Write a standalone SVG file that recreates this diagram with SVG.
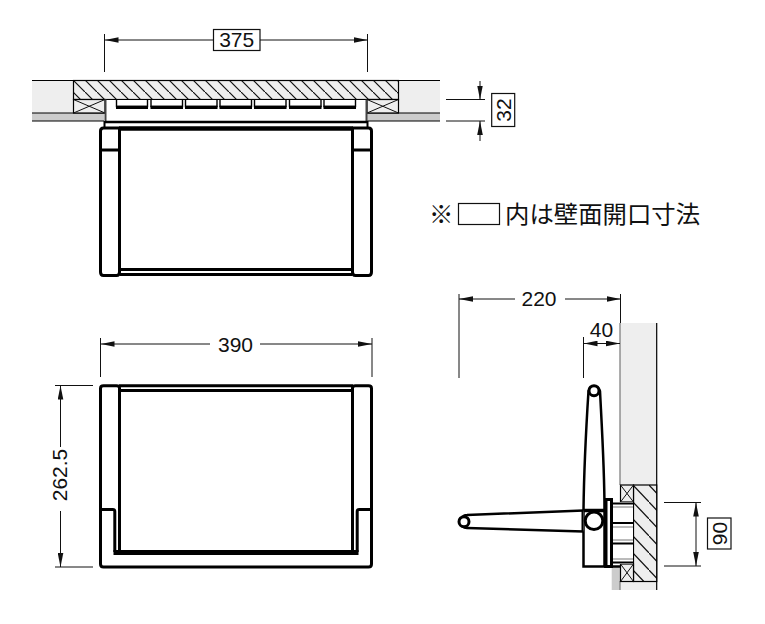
<svg xmlns="http://www.w3.org/2000/svg" width="765" height="624" viewBox="0 0 765 624">
<style>
.t{font-family:"Liberation Sans",Arial,sans-serif;font-size:21px;fill:#111;text-anchor:middle}
.j{font-family:"Noto Sans CJK JP","Liberation Sans",sans-serif;font-size:24.4px;fill:#111}
.d{stroke:#111;stroke-width:1;fill:none}
.da{stroke:#111;stroke-width:1;fill:none;marker-start:url(#as);marker-end:url(#ae)}
.o{stroke:#000;stroke-width:1.2;fill:none}
.k{stroke:#000;stroke-width:3;fill:none;stroke-linejoin:round}
.kw{stroke:#000;stroke-width:3;fill:#fff}
.box{fill:#fff;stroke:#111;stroke-width:1.2}
</style>
<defs>
<marker id="ae" markerUnits="userSpaceOnUse" markerWidth="14" markerHeight="6" refX="14" refY="3" orient="auto"><path d="M0 0.2L14 3L0 5.8Z" fill="#111"/></marker>
<marker id="as" markerUnits="userSpaceOnUse" markerWidth="14" markerHeight="6" refX="0" refY="3" orient="auto"><path d="M14 0.2L0 3L14 5.8Z" fill="#111"/></marker>
<pattern id="h1" patternUnits="userSpaceOnUse" x="73" y="80" width="12" height="12"><rect width="12" height="12" fill="#eee"/><path d="M-1 -1L13 13" stroke="#111" stroke-width="1.2"/></pattern>
<pattern id="h2" patternUnits="userSpaceOnUse" x="633" y="485" width="16" height="17"><rect width="16" height="17" fill="#eee"/><path d="M-1.6 -1.7L17.6 18.7" stroke="#111" stroke-width="1.2"/></pattern>
</defs>

<g id="plan-wall">
<rect x="32" y="80.5" width="408" height="32.5" fill="#eee"/>
<rect x="32" y="113" width="72" height="8" fill="#ccc"/>
<rect x="367" y="113" width="73" height="8" fill="#ccc"/>
<path class="o" d="M32 80.500H440M32 113H105M32 121H104M367 113H440M367 121H440"/>
<rect x="73.500" y="80.500" width="325" height="19" fill="url(#h1)" stroke="#000" stroke-width="1.2"/>
<g fill="#eee" stroke="#000" stroke-width="1.2">
<rect x="73.500" y="99.500" width="31.500" height="13.500"/>
<rect x="367" y="99.500" width="31.500" height="13.500"/>
</g>
<path class="d" d="M73.500 99.500L105 113M105 99.500L73.500 113M367 99.500L398.500 113M398.500 99.500L367 113"/>
</g>
<g id="plan-fitting">
<rect x="105" y="99.500" width="262" height="22" fill="#fff" stroke="none"/>
<path d="M73.500 99.500H398.500" stroke="#000" stroke-width="1.2"/>
<path stroke="#444" stroke-width="2" fill="none" d="M105.500 99.500V122M366.500 99.500V122"/>
<path stroke="#000" stroke-width="2.5" fill="none" d="M105 122H367"/>
<g fill="#fff" stroke="#000" stroke-width="1.4">
<path d="M116.500 100V106.500H147.500V100"/>
<path d="M151 100V106.500H182.500V100"/>
<path d="M185.500 100V106.500H217V100"/>
<path d="M220 100V106.500H251.500V100"/>
<path d="M254.500 100V106.500H286V100"/>
<path d="M289.500 100V106.500H321V100"/>
<path d="M324 100V106.500H355.500V100"/>
</g>
<path stroke="#000" stroke-width="3.2" fill="none" d="M116 107.300H148M150.500 107.300H183M185 107.300H217.500M219.500 107.300H252M254 107.300H286.500M289 107.300H321.500M323.500 107.300H356"/>
</g>
<g id="plan-shelf">
<path d="M119 128.500H353" stroke="#000" stroke-width="4.500" fill="none"/>
<path class="k" d="M119.500 127V272Q119.500 275.500 116.500 275.500H103.500Q100.500 275.500 100.500 272V131Q100.500 128 103.500 128H119.500M352.500 127V272Q352.500 275.500 355.500 275.500H368.500Q371.500 275.500 371.500 272V131Q371.500 128 368.500 128H352.500"/>
<path d="M100 150H119M353 150H372" stroke="#000" stroke-width="3" fill="none"/>
<path d="M104.500 121V127M367.500 121V127" stroke="#000" stroke-width="2" fill="none"/>
<path class="k" d="M120 269.500H352M120 274.500H352"/>
</g>

<g id="front-shelf">
<path class="k" d="M103.500 385.800H116.500Q119.500 385.800 119.500 388V552M352.500 552V388Q352.500 385.800 355.500 385.800H368.500Q371.500 385.800 371.500 388.500V564Q371.500 567 368.500 567H103.500Q100.500 567 100.500 564V388.500Q100.500 385.800 103.500 385.800"/>
<path class="k" d="M119 385.800H353M119 390.500H353"/>
<path class="k" d="M100.500 509.500H113Q114.800 509.500 114.800 511.500V552M371.500 509.500H359Q357.200 509.500 357.200 511.500V552"/>
<path d="M113.500 552.500H358.500" stroke="#000" stroke-width="5" fill="none"/>
</g>

<g id="side-wall">
<rect x="620" y="323" width="36.500" height="267" fill="#eee"/>
<rect x="611.700" y="566" width="8.300" height="24" fill="#ccc"/>
<path stroke="#777" stroke-width="1.2" fill="none" d="M620 323V485M620 581V590"/>
<path class="o" d="M656.700 323V590"/>
<rect x="633.500" y="485" width="23.200" height="96.500" fill="url(#h2)" stroke="#000" stroke-width="1.2"/>
<g fill="#eee" stroke="#000" stroke-width="1.2">
<rect x="620.500" y="485" width="13" height="17"/>
<rect x="620.500" y="564" width="13" height="17.500"/>
</g>
<path class="d" d="M620.500 485L633.500 502M633.500 485L620.500 502M620.500 564L633.500 581.500M633.500 564L620.500 581.500"/>
</g>
<g id="side-bracket">
<rect x="612" y="502" width="21" height="62" fill="#fff"/>
<path stroke="#000" stroke-width="2.2" fill="none" d="M611 503.500H633M611 523H633M611 543.500H633M611 562.500H633"/>
<path stroke="#777" stroke-width="1" fill="none" d="M611 507H633M611 527H633M611 540H633M611 559H633"/>
<path class="kw" style="stroke-width:2.5" d="M583.500 566.500V510C584 470 586 430 588.500 391A6 6 0 0 1 600 391C602 430 604.500 470 604.500 510V566.500Z"/>
<path class="kw" d="M606 566.500V499.500H611.500V566.500Z"/>
<path d="M604 566.500H620" stroke="#000" stroke-width="2.5" fill="none"/>
<path d="M583 510.500H607" stroke="#000" stroke-width="3.5" fill="none"/>
<path class="kw" style="stroke-width:2.5" d="M583.500 531.500L467 528A6.500 6.500 0 0 1 467 515L583.500 510.500"/>
<path d="M582.500 510V532" stroke="#000" stroke-width="2" fill="none"/>
<circle cx="594" cy="520.800" r="8.800" class="kw"/>
<circle cx="594" cy="390.700" r="5" class="kw"/>
<circle cx="464" cy="521.700" r="5" class="kw"/>
</g>

<g id="dimensions">
<path class="d" d="M104.500 34V72M367.500 34V72"/>
<path class="da" d="M104.500 40H367.500"/>
<path class="d" d="M446 99.500H485M446 121H485"/>
<path class="d" d="M480 81V99.500" marker-end="url(#ae)"/>
<path class="d" d="M480 141V121" marker-end="url(#ae)"/>
<path class="d" d="M100.500 338V377M372 338V377"/>
<path class="da" d="M100.500 344H372"/>
<path class="d" d="M55 385.500H93M55 567H93"/>
<path class="da" d="M60.500 385.500V567"/>
<path class="d" d="M459 294V378M620.500 294V323M583.500 337V378"/>
<path class="da" d="M459 299H620.500"/>
<path class="da" d="M583.500 343.500H620"/>
<path class="d" d="M664 502.500H701M664 566H701"/>
<path class="da" d="M696 502.500V566"/>
<rect x="210" y="335" width="50" height="20" fill="#fff"/>
<rect x="50" y="447" width="20" height="64" fill="#fff"/>
<rect x="515" y="289" width="50" height="20" fill="#fff"/>
<rect class="box" x="213.500" y="29.500" width="46.500" height="21"/>
<text class="t" x="236.700" y="47">375</text>
<rect class="box" x="491.700" y="93.500" width="23" height="33"/>
<text class="t" transform="translate(510.500 110) rotate(-90)">32</text>
<text class="t" x="235.500" y="351.500">390</text>
<text class="t" transform="translate(67 475) rotate(-90)">262.5</text>
<text class="t" x="539" y="306">220</text>
<text class="t" x="601.500" y="337">40</text>
<rect class="box" x="707.500" y="518" width="23.500" height="31"/>
<text class="t" transform="translate(726.500 533.500) rotate(-90)">90</text>
</g>

<g id="note">
<text class="j" x="429" y="222.500">※</text>
<rect class="box" x="458.500" y="203.500" width="41" height="21"/>
<text class="j" x="505" y="222.500">内は壁面開口寸法</text>
</g>
</svg>
